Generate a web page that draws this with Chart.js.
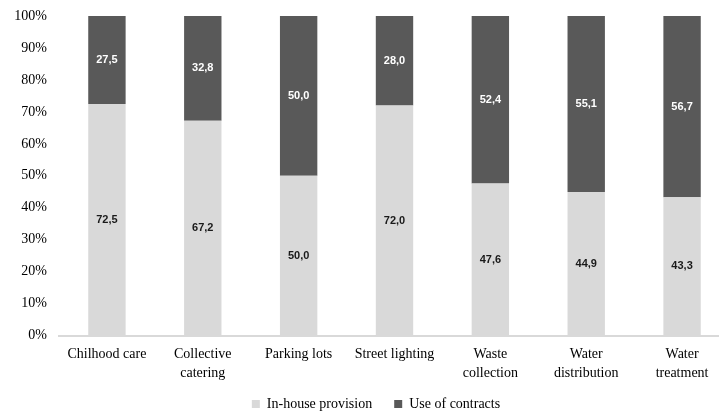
<!DOCTYPE html>
<html>
<head>
<meta charset="utf-8">
<script src="https://cdn.jsdelivr.net/npm/chart.js@4"></script>
<style>
    html, body { margin: 0; padding: 0; background: #fff; overflow: hidden; }
    #wrap { width: 730px; height: 414px; position: relative; }
</style>
</head>
<body>
<div id="wrap"><canvas id="serviceChart"></canvas></div>
<script>
// Chart data
const categories = [
    'Chilhood care',
    ['Collective', 'catering'],
    'Parking lots',
    'Street lighting',
    ['Waste', 'collection'],
    ['Water', 'distribution'],
    ['Water', 'treatment']
];
const inHouse = [72.5, 67.2, 50.0, 72.0, 47.6, 44.9, 43.3];
const contracts = [27.5, 32.8, 50.0, 28.0, 52.4, 55.1, 56.7];
const yTicks = [0, 10, 20, 30, 40, 50, 60, 70, 80, 90, 100];

// Draws the value in the middle of each segment
const segmentLabels = {
    id: 'segmentLabels',
    afterDatasetsDraw(chart) {
        const ctx = chart.ctx;
        ctx.save();
        ctx.font = 'bold 11px "Liberation Sans"';
        ctx.textAlign = 'center';
        ctx.textBaseline = 'middle';
        chart.data.datasets.forEach((ds, i) => {
            const meta = chart.getDatasetMeta(i);
            ctx.fillStyle = ds.labelColor;
            meta.data.forEach((bar, j) => {
                const p = bar.getProps(['x', 'y', 'base'], true);
                const text = ds.data[j].toFixed(1).replace('.', ',');
                ctx.fillText(text, p.x, (p.y + p.base) / 2);
            });
        });
        ctx.restore();
    }
};

// Nudge the legend a bit right and up, like the original
const legendNudge = {
    id: 'legendNudge',
    afterLayout(chart) {
        const lg = chart.legend;
        if (!lg) return;
        lg.left += 11;
        lg.right += 11;
        lg.top -= 17;
        lg.bottom -= 17;
    }
};

new Chart(document.getElementById('serviceChart'), {
    type: 'bar',
    data: {
        labels: categories,
        datasets: [
            {
                label: 'In-house provision',
                data: inHouse,
                backgroundColor: '#d9d9d9',
                labelColor: '#1a1a1a'
            },
            {
                label: 'Use of contracts',
                data: contracts,
                backgroundColor: '#595959',
                labelColor: '#ffffff'
            }
        ]
    },
    options: {
        responsive: true,
        maintainAspectRatio: false,
        animation: false,
        datasets: {
            bar: { categoryPercentage: 1, barPercentage: 0.39 }
        },
        scales: {
            x: {
                stacked: true,
                grid: { display: false, drawTicks: false },
                border: { color: '#d9d9d9', width: 2 },
                ticks: {
                    color: '#000',
                    font: { family: '"Liberation Serif"', size: 14, lineHeight: 1.3 },
                    maxRotation: 0,
                    autoSkip: false,
                    padding: 10
                }
            },
            y: {
                stacked: true,
                min: 0,
                max: 100,
                afterBuildTicks: (axis) => {
                    axis.ticks = yTicks.map(v => ({ value: v }));
                },
                // fixed width/top so the plot sits where the original does
                afterFit: (axis) => {
                    axis.width = 59;
                    axis.paddingTop = 16;
                },
                grid: { display: false, drawTicks: false },
                border: { display: false },
                ticks: {
                    color: '#000',
                    font: { family: '"Liberation Serif"', size: 14 },
                    padding: 12,
                    callback: (value) => value + '%'
                }
            }
        },
        plugins: {
            legend: {
                position: 'bottom',
                labels: {
                    color: '#000',
                    font: { family: '"Liberation Serif"', size: 14 },
                    boxWidth: 8,
                    boxHeight: 8,
                    padding: 22
                }
            },
            tooltip: { enabled: false }
        },
        layout: {
            padding: { top: 0, left: 0, right: 0, bottom: -24 }
        }
    },
    plugins: [segmentLabels, legendNudge]
});
</script>
</body>
</html>
